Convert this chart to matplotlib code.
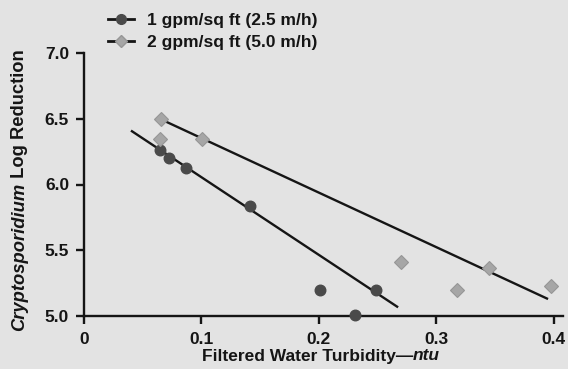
import matplotlib
matplotlib.use("Agg")
import matplotlib.pyplot as plt
from matplotlib.lines import Line2D
from matplotlib.transforms import IdentityTransform

# ---- data ----
x_1gpm = [0.065, 0.072, 0.087, 0.141, 0.201, 0.231, 0.249]
y_1gpm = [6.26, 6.20, 6.125, 5.835, 5.195, 5.005, 5.195]
x_2gpm = [0.0655, 0.0650, 0.1001, 0.270, 0.318, 0.345, 0.398]
y_2gpm = [6.495, 6.345, 6.345, 5.408, 5.195, 5.367, 5.228]
fit1_x = [0.040, 0.2675]
fit1_y = [6.41, 5.066]
fit2_x = [0.0698, 0.3952]
fit2_y = [6.478, 5.129]
label_1 = "1 gpm/sq ft (2.5 m/h)"
label_2 = "2 gpm/sq ft (5.0 m/h)"
xticks = [0, 0.1, 0.2, 0.3, 0.4]
xticklabels = ["0", "0.1", "0.2", "0.3", "0.4"]
yticks = [5.0, 5.5, 6.0, 6.5, 7.0]
yticklabels = ["5.0", "5.5", "6.0", "6.5", "7.0"]

BG = "#e3e3e3"
C1 = "#4a4a4a"
C2 = "#a6a6a6"
INK = "#151515"
FONT = "Liberation Sans"
FS = 12.5

plt.rcParams["font.family"] = [FONT, "DejaVu Sans"]
plt.rcParams["font.weight"] = "bold"

W, H = 568, 369
fig = plt.figure(figsize=(W / 100, H / 100), dpi=100)
fig.patch.set_facecolor(BG)
ax = fig.add_axes([84 / W, 1 - 316 / H, (562.5 - 84) / W, (316 - 53) / H])
ax.set_facecolor(BG)

ax.plot(fit1_x, fit1_y, color=INK, lw=1.7, zorder=2, solid_capstyle="butt")
ax.plot(fit2_x, fit2_y, color=INK, lw=1.7, zorder=2, solid_capstyle="butt")
ax.plot(x_1gpm, y_1gpm, ls="none", marker="o", ms=7.6, mfc=C1, mec=C1,
        zorder=4, clip_on=False)
ax.plot(x_2gpm, y_2gpm, ls="none", marker="D", ms=7.2, mfc=C2, mec="#969696",
        mew=0.8, zorder=4, clip_on=False)

ax.set_xlim(0, 0.4075)
ax.set_ylim(5.0, 7.0)
ax.set_xticks(xticks)
ax.set_xticklabels(xticklabels)
ax.set_yticks(yticks)
ax.set_yticklabels(yticklabels)
for s in ["top", "right"]:
    ax.spines[s].set_visible(False)
for s in ["left", "bottom"]:
    ax.spines[s].set_linewidth(1.7)
    ax.spines[s].set_color(INK)
ax.tick_params(axis="both", direction="out", length=5.8, width=1.7,
               color=INK, pad=5, labelsize=FS, labelcolor=INK)
ax.tick_params(axis="x", pad=6)
for t in ax.get_xticklabels() + ax.get_yticklabels():
    t.set_fontweight("bold")

# legend
h1 = Line2D([], [], color=INK, lw=2.0, marker="o", ms=7, mfc=C1, mec=C1)
h2 = Line2D([], [], color=INK, lw=2.0, marker="D", ms=6.5, mfc=C2, mec="#969696")
leg = fig.legend([h1, h2], [label_1, label_2], loc="upper left",
                 bbox_to_anchor=(108 / W, 1 - 12.5 / H), frameon=False,
                 borderpad=0, borderaxespad=0, handlelength=1.5,
                 handletextpad=0.75, labelspacing=0.42, numpoints=1,
                 prop={"family": FONT, "weight": "bold", "size": FS})
for t in leg.get_texts():
    t.set_color(INK)

# mixed-style axis labels
fig.canvas.draw()
renderer = fig.canvas.get_renderer()
ident = IdentityTransform()

def pieces(parts, cx, cy, rotation, fs):
    objs = []
    for txt, style in parts:
        o = fig.text(0, 0, txt, transform=ident, fontsize=fs, fontweight="bold",
                     fontstyle=style, family=FONT, color=INK,
                     rotation=rotation, ha="left" if rotation == 0 else "center",
                     va="center" if rotation == 0 else "bottom")
        objs.append(o)
    sizes = []
    for o in objs:
        bb = o.get_window_extent(renderer)
        sizes.append(bb.width if rotation == 0 else bb.height)
    total = sum(sizes)
    pos = (cx if rotation == 0 else cy) - total / 2
    for o, s in zip(objs, sizes):
        if rotation == 0:
            o.set_position((pos, cy))
        else:
            o.set_position((cx, pos))
        pos += s

pieces([("Filtered Water Turbidity\u2014", "normal"), ("ntu", "italic")],
       321, H - 356, 0, FS)
pieces([("Cryptosporidium", "italic"), (" Log Reduction", "normal")],
       20, H - 190, 90, 13.2)

fig.savefig("out.png", dpi=100, facecolor=BG)
